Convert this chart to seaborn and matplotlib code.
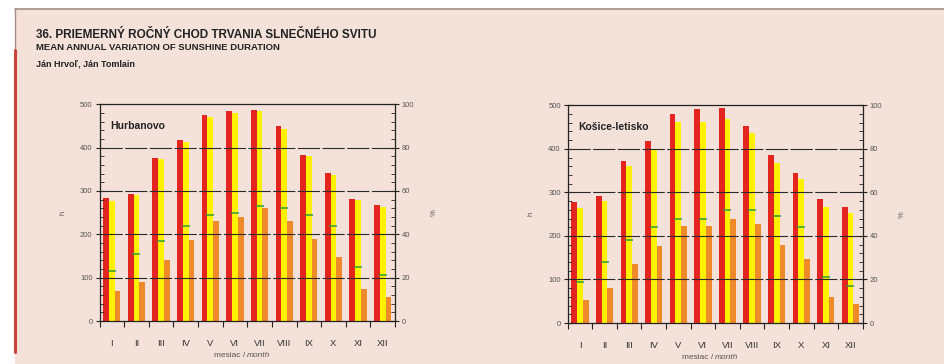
import numpy as np
import pandas as pd
import matplotlib
matplotlib.use('Agg')
import matplotlib.pyplot as plt
import seaborn as sns
from matplotlib.lines import Line2D
from matplotlib.patches import Rectangle
from matplotlib.ticker import MultipleLocator

sns.set_theme(style='white')
plt.rcParams['font.family'] = ['Liberation Sans Narrow', 'Liberation Sans', 'DejaVu Sans']

# údaje odčítané z grafu
mesiace = ['I', 'II', 'III', 'IV', 'V', 'VI', 'VII', 'VIII', 'IX', 'X', 'XI', 'XII']

hurb_mozne = [283, 294, 377, 417, 476, 484, 487, 449, 384, 341, 282, 267]
hurb_horizont = [278, 291, 374, 413, 471, 481, 484, 444, 380, 336, 279, 264]
hurb_skutocne = [69, 91, 140, 186, 231, 240, 260, 231, 190, 147, 74, 55]
hurb_relativne = [23, 31, 37, 44, 49, 50, 53, 52, 49, 44, 25, 21]

kos_mozne = [277, 291, 373, 418, 480, 492, 494, 452, 387, 344, 284, 266]
kos_horizont = [265, 280, 360, 398, 461, 461, 468, 437, 367, 331, 267, 252]
kos_skutocne = [53, 80, 136, 177, 223, 223, 240, 227, 179, 146, 59, 44]
kos_relativne = [19, 28, 38, 44, 48, 48, 52, 52, 49, 44, 21, 17]

stanice = ['Hurbanovo', 'Košice-letisko']
rady = ['mozne', 'horizont', 'skutocne']
farby = ['#e4241f', '#fff100', '#ef8a2a']
zelena = '#2f9a3c'
pozadie = '#f4e1da'
sivy_text = '#555555'


def tabulka(mozne, horizont, skutocne):
    rows = []
    for rad, hodnoty in zip(rady, [mozne, horizont, skutocne]):
        for m, v in zip(mesiace, hodnoty):
            rows.append({'mesiac': m, 'h': v, 'rad': rad})
    return pd.DataFrame(rows)


data = [
    (tabulka(hurb_mozne, hurb_horizont, hurb_skutocne), hurb_relativne),
    (tabulka(kos_mozne, kos_horizont, kos_skutocne), kos_relativne),
]

fig = plt.figure(figsize=(9.45, 3.64), dpi=100)
fig.patch.set_facecolor('white')

# ružový podklad a okraje
fig.add_artist(Rectangle((15 / 945, 0), 1, 1 - 9 / 364, transform=fig.transFigure,
                         facecolor=pozadie, edgecolor='none', zorder=-10))
fig.add_artist(Line2D([15 / 945, 1], [1 - 9 / 364, 1 - 9 / 364], transform=fig.transFigure,
                      color='#a58c87', lw=1.2))
fig.add_artist(Line2D([15 / 945, 15 / 945], [1 - 9 / 364, 1 - 50 / 364], transform=fig.transFigure,
                      color='#a58c87', lw=1.0))
fig.add_artist(Line2D([15 / 945, 15 / 945], [1 - 50 / 364, 1 - 352 / 364], transform=fig.transFigure,
                      color='#c8443b', lw=2.2))

fig.text(36 / 945, 1 - 35 / 364, '36. PRIEMERNÝ ROČNÝ CHOD TRVANIA SLNEČNÉHO SVITU',
         fontsize=8.5, fontweight='bold', color='#222222', va='center')
fig.text(36 / 945, 1 - 48 / 364, 'MEAN ANNUAL VARIATION OF SUNSHINE DURATION',
         fontsize=6.8, fontweight='bold', color='#222222', va='center')
fig.text(36 / 945, 1 - 64 / 364, 'Ján Hrvoľ, Ján Tomlain',
         fontsize=6.5, fontweight='bold', color='#222222', va='center')

pozicie = [[99.5 / 945, 1 - 321 / 364, 295.5 / 945, 216.7 / 364],
           [567.7 / 945, 1 - 323 / 364, 295 / 945, 217.7 / 364]]

for (df, relativne), nazov, poz in zip(data, stanice, pozicie):
    ax = fig.add_axes(poz)
    ax.set_facecolor('none')
    sns.barplot(data=df, x='mesiac', y='h', hue='rad', hue_order=rady, order=mesiace,
                palette=farby, width=0.7, saturation=1, linewidth=0, legend=False, ax=ax)
    ax.set_xlim(-0.5, 11.5)
    ax.set_ylim(0, 500)

    ax.yaxis.set_major_locator(MultipleLocator(100))
    ax.yaxis.set_minor_locator(MultipleLocator(20))
    ax.set_xticks(np.arange(-0.5, 12, 1))
    ax.set_xticklabels([])
    ax.set_xticks(np.arange(12), minor=True)
    ax.set_xticklabels(mesiace, minor=True)

    ax.tick_params(axis='y', which='major', direction='inout', length=6, width=0.8,
                   color='#222222', labelsize=5.5, labelcolor=sivy_text, pad=2, left=True)
    ax.tick_params(axis='y', which='minor', direction='in', length=3, width=0.6,
                   color='#222222', left=True)
    ax.tick_params(axis='x', which='major', direction='out', length=4, width=0.8,
                   color='#222222', bottom=True)
    ax.tick_params(axis='x', which='minor', length=0, pad=13, labelsize=6.8,
                   labelcolor='#333333')

    for s in ax.spines.values():
        s.set_color('#222222')
        s.set_linewidth(0.9)
        s.set_visible(True)

    ax.set_axisbelow(False)
    for yv in [100, 200, 300, 400]:
        ax.axhline(yv, color='#2a2a2a', lw=0.8, ls=(0, (20, 2.2)), zorder=3)

    ax.set_xlabel('')
    ax.set_ylabel('h', fontsize=5.5, color=sivy_text, labelpad=10)
    ax.text(0.5, -0.16, 'mesiac / ', transform=ax.transAxes, ha='right', va='center',
            fontsize=6, color=sivy_text)
    ax.text(0.5, -0.16, 'month', transform=ax.transAxes, ha='left', va='center',
            fontsize=6, color=sivy_text, style='italic')
    ax.text(0.035, 0.9, nazov, transform=ax.transAxes, fontsize=7.5, fontweight='bold',
            color='#222222', va='center')

    ax2 = ax.twinx()
    ax2.set_ylim(0, 100)
    ax2.scatter(np.arange(12), relativne, marker='_', s=38, linewidths=1.1,
                color=zelena, zorder=4)
    ax2.yaxis.set_major_locator(MultipleLocator(20))
    ax2.yaxis.set_minor_locator(MultipleLocator(4))
    ax2.tick_params(axis='y', which='major', direction='inout', length=6, width=0.8,
                    color='#222222', labelsize=5.5, labelcolor=sivy_text, pad=2, right=True)
    ax2.tick_params(axis='y', which='minor', direction='in', length=3, width=0.6,
                    color='#222222', right=True)
    for s in ax2.spines.values():
        s.set_visible(False)
    ax2.set_ylabel('%', fontsize=5.5, color=sivy_text, labelpad=12)

fig.savefig('out.png', dpi=100, facecolor=fig.get_facecolor())
